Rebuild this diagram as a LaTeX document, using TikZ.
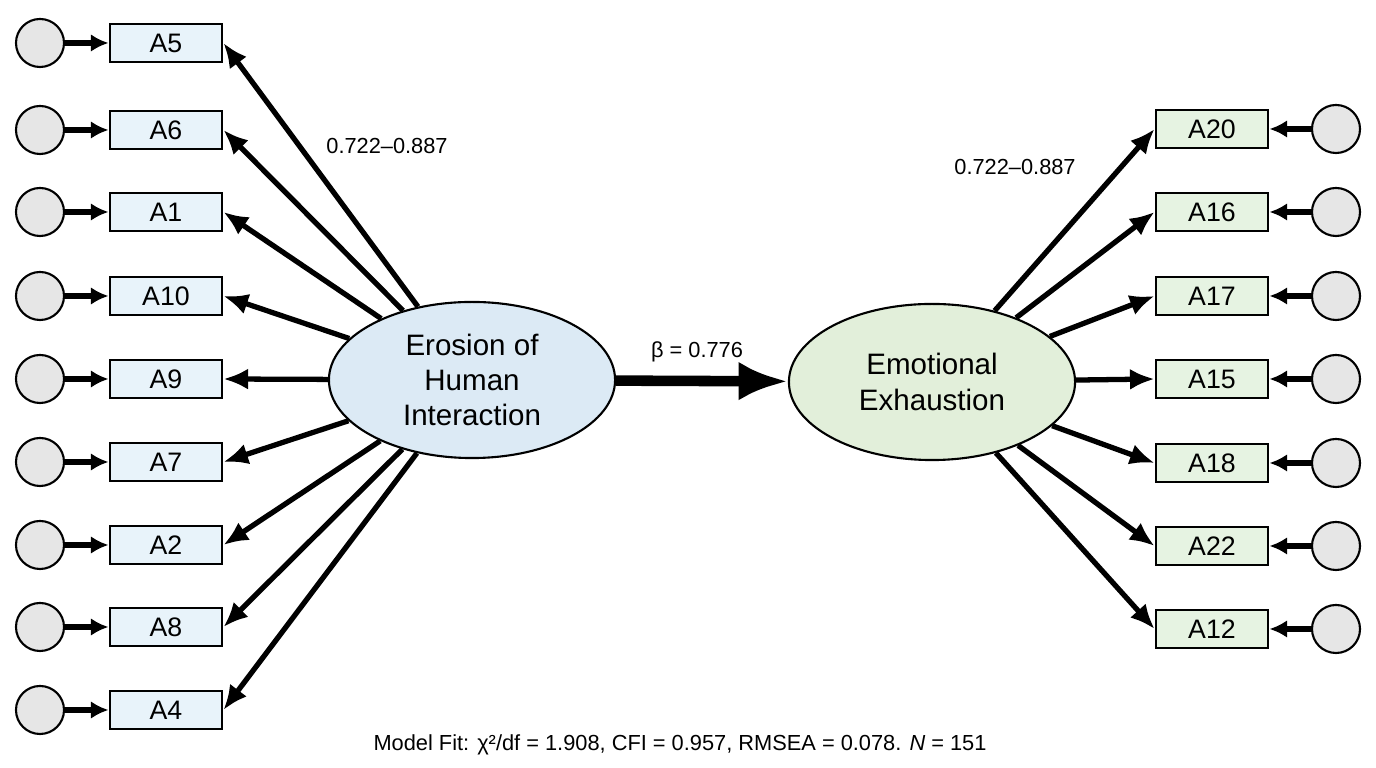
\documentclass[tikz,border=0pt]{standalone}
\usepackage{fontspec}
\setmainfont{Liberation Sans}
\usetikzlibrary{arrows.meta,shapes.geometric}
\definecolor{bbox}{HTML}{E8F3FA}
\definecolor{gbox}{HTML}{E6F3E2}
\definecolor{bell}{HTML}{DCEAF5}
\definecolor{gell}{HTML}{E2EFDA}
\definecolor{err}{HTML}{E6E6E6}
\begin{document}
\begin{tikzpicture}[x=0.01cm,y=-0.01cm,
 box/.style={draw,line width=0.8pt,minimum width=1.12cm,minimum height=0.38cm,inner sep=0pt,font=\fontsize{7.6}{8}\selectfont},
 lbox/.style={box,fill=bbox},
 rbox/.style={box,fill=gbox},
 errc/.style={circle,draw,line width=0.6pt,fill=err,minimum size=0.48cm,inner sep=0pt},
 lat/.style={ellipse,draw,line width=0.6pt,minimum width=2.86cm,minimum height=1.56cm,inner sep=0pt,align=center,font=\fontsize{8.4}{10}\selectfont},
 arr/.style={-{Latex[length=7pt,width=6pt]},line width=1.5pt},
 sarr/.style={-{Latex[length=5pt,width=5pt]},line width=1.5pt}]
\useasboundingbox (0,0) rectangle (1376,768);
\node[lat,fill=bell] (E) at (472,380) {Erosion of\\Human\\Interaction};
\node[lat,fill=gell] (X) at (932,382) {Emotional\\Exhaustion};
\foreach \n/\y in {A5/43,A6/130,A1/212,A10/296,A9/379,A7/462,A2/545,A8/627,A4/710}{
 \node[lbox] (\n) at (166,\y) {\n};
 \node[errc] (e\n) at (40,\y) {};
 \draw[sarr] (e\n) -- (\n);
 \draw[arr] (E) -- (\n.east);
}
\foreach \n/\y in {A20/129,A16/212,A17/296,A15/379,A18/463,A22/546,A12/629}{
 \node[rbox] (\n) at (1212,\y) {\n};
 \node[errc] (e\n) at (1336,\y) {};
 \draw[sarr] (e\n) -- (\n);
 \draw[arr] (X) -- (\n.west);
}
\draw[-{Latex[length=14pt,width=11pt]},line width=3pt] (E) -- (X);
\node[font=\fontsize{6.2}{7}\selectfont] (l1) at (387,146) {0.722–0.887};
\node[font=\fontsize{6.2}{7}\selectfont] (l2) at (1015,167) {0.722–0.887};
\node[font=\fontsize{6.2}{7}\selectfont] (b) at (697,352) {β = 0.776};
\node[font=\fontsize{6.2}{7}\selectfont] (m) at (680,745) {Model Fit: χ²/df = 1.908, CFI = 0.957, RMSEA = 0.078. \textit{N} = 151};
\end{tikzpicture}
\end{document}
